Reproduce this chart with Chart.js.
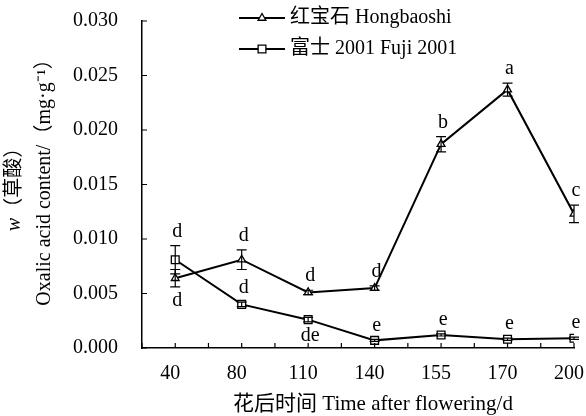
<!DOCTYPE html>
<html>
<head>
<meta charset="utf-8">
<script src="https://cdn.jsdelivr.net/npm/chart.js@4.4.1/dist/chart.umd.min.js"></script>
<style>
  html, body { margin: 0; padding: 0; background: #fff; }
  #wrap { width: 586px; height: 416px; }
</style>
</head>
<body>
<div id="wrap"><canvas id="chart" width="586" height="416"></canvas></div>
<script>
// days after flowering (category labels on the x axis)
const days = ['40', '80', '110', '140', '155', '170', '200'];

const hongbaoshi = [0.0064, 0.0081, 0.0051, 0.0055, 0.0187, 0.0237, 0.0123];
const hongbaoshiErr = [0.0008, 0.0009, 0.0002, 0.0002, 0.0007, 0.0006, 0.0008];
const hongbaoshiLetters = ['d', 'd', 'd', 'd', 'b', 'a', 'c'];

const fuji = [0.0081, 0.0040, 0.0026, 0.0007, 0.0012, 0.0008, 0.0009];
const fujiErr = [0.0013, 0.0002, 0.0002, 0.0001, 0.0001, 0.0001, 0.0001];
const fujiLetters = ['d', 'd', 'de', 'e', 'e', 'e', 'e'];

const yMin = 0, yMax = 0.03, yStep = 0.005;

const SERIF = '"Liberation Serif", "Times New Roman", "Noto Sans CJK SC", serif';

const toPoints = arr => arr.map((v, i) => ({ x: i, y: v }));

// little tick marks pointing into the plot
const inwardTicks = {
  id: 'inwardTicks',
  afterDraw(chart) {
    const { ctx, chartArea, scales: { x, y } } = chart;
    ctx.save();
    ctx.strokeStyle = '#000';
    ctx.lineWidth = 1.2;
    ctx.beginPath();
    x.ticks.forEach(t => {
      const px = x.getPixelForValue(t.value);
      ctx.moveTo(px, chartArea.bottom);
      ctx.lineTo(px, chartArea.bottom - 5);
    });
    y.ticks.forEach(t => {
      const py = y.getPixelForValue(t.value);
      ctx.moveTo(chartArea.left, py);
      ctx.lineTo(chartArea.left + 5, py);
    });
    ctx.stroke();
    ctx.restore();
  }
};

// error bars + significance letters
const errorBars = {
  id: 'errorBars',
  afterDatasetsDraw(chart) {
    const { ctx, scales: { x, y } } = chart;
    ctx.save();
    chart.data.datasets.forEach(ds => {
      ds.data.forEach((p, i) => {
        const e = ds.errors[i];
        const px = x.getPixelForValue(p.x);
        const top = y.getPixelForValue(p.y + e);
        const bot = y.getPixelForValue(p.y - e);
        ctx.strokeStyle = '#000';
        ctx.lineWidth = 1.2;
        ctx.beginPath();
        ctx.moveTo(px, top); ctx.lineTo(px, bot);
        ctx.moveTo(px - 5, top); ctx.lineTo(px + 5, top);
        ctx.moveTo(px - 5, bot); ctx.lineTo(px + 5, bot);
        ctx.stroke();

        ctx.fillStyle = '#000';
        ctx.font = '20px ' + SERIF;
        ctx.textAlign = 'center';
        ctx.textBaseline = 'middle';
        const below = ds.letterSide[i] === 'below';
        ctx.fillText(ds.letters[i], px + 2, below ? bot + 14 : top - 14);
      });
    });
    ctx.restore();
  }
};

// line + marker legend sitting inside the plot
const lineLegend = {
  id: 'lineLegend',
  afterDraw(chart) {
    const { ctx } = chart;
    ctx.save();
    chart.data.datasets.forEach((ds, i) => {
      const cy = 18 + i * 31;
      ctx.strokeStyle = '#000';
      ctx.lineWidth = 2;
      ctx.beginPath();
      ctx.moveTo(239, cy); ctx.lineTo(285, cy);
      ctx.stroke();
      ctx.fillStyle = '#fff';
      ctx.lineWidth = 1.3;
      Chart.helpers.drawPoint(ctx, { pointStyle: ds.pointStyle, radius: ds.pointRadius, borderWidth: 1.3 }, 262, cy);
      ctx.fillStyle = '#000';
      ctx.font = '20px ' + SERIF;
      ctx.textAlign = 'left';
      ctx.textBaseline = 'middle';
      ctx.fillText(ds.label, 290, cy);
    });
    ctx.restore();
  }
};

// axis titles (y rotated with italic w)
const axisTitles = {
  id: 'axisTitles',
  afterDraw(chart) {
    const { ctx, chartArea } = chart;
    const cy = (chartArea.top + chartArea.bottom) / 2;
    ctx.save();
    ctx.fillStyle = '#000';
    ctx.textBaseline = 'middle';

    ctx.font = '21px ' + SERIF;
    ctx.textAlign = 'center';
    ctx.fillText('花后时间 Time after flowering/d', 373, 404);

    ctx.translate(15, cy);
    ctx.rotate(-Math.PI / 2);
    ctx.font = 'italic 20px ' + SERIF;
    const w1 = ctx.measureText('w').width;
    ctx.font = '20px ' + SERIF;
    const w2 = ctx.measureText('（草酸）').width;
    ctx.textAlign = 'left';
    ctx.font = 'italic 20px ' + SERIF;
    ctx.fillText('w', -(w1 + w2) / 2, 0);
    ctx.font = '20px ' + SERIF;
    ctx.fillText('（草酸）', -(w1 + w2) / 2 + w1, 0);
    ctx.textAlign = 'center';
    ctx.fillText('Oxalic acid content/（mg·g⁻¹）', 7, 30);
    ctx.restore();
  }
};

new Chart(document.getElementById('chart'), {
  type: 'line',
  data: {
    datasets: [
      {
        label: '红宝石 Hongbaoshi',
        data: toPoints(hongbaoshi),
        errors: hongbaoshiErr,
        letters: hongbaoshiLetters,
        letterSide: ['below', 'above', 'above', 'above', 'above', 'above', 'above'],
        borderColor: '#000',
        borderWidth: 2,
        pointStyle: 'triangle',
        pointRadius: 4.5,
        pointBackgroundColor: '#fff',
        pointBorderColor: '#000',
        pointBorderWidth: 1.3,
        tension: 0
      },
      {
        label: '富士 2001 Fuji 2001',
        data: toPoints(fuji),
        errors: fujiErr,
        letters: fujiLetters,
        letterSide: ['above', 'above', 'below', 'above', 'above', 'above', 'above'],
        borderColor: '#000',
        borderWidth: 2,
        pointStyle: 'rect',
        pointRadius: 5.5,
        pointBackgroundColor: '#fff',
        pointBorderColor: '#000',
        pointBorderWidth: 1.3,
        tension: 0
      }
    ]
  },
  options: {
    responsive: false,
    animation: false,
    layout: { padding: { top: 21, right: 12, bottom: 0, left: 0 } },
    plugins: { legend: { display: false }, tooltip: { enabled: false } },
    scales: {
      x: {
        type: 'linear',
        min: -0.5,
        max: days.length - 1,
        afterFit: s => { s.height = 68; s.paddingLeft = 0; s.paddingRight = 0; },
        border: { color: '#000', width: 1.5 },
        grid: { drawOnChartArea: false, drawTicks: false },
        ticks: {
          stepSize: 0.5,
          autoSkip: false,
          maxRotation: 0,
          padding: 14,
          labelOffset: -5,
          color: '#000',
          font: { family: SERIF, size: 20 },
          callback: v => Number.isInteger(v) ? days[v] : ''
        }
      },
      y: {
        min: yMin,
        max: yMax,
        afterFit: s => { s.width = 142; s.paddingTop = 0; s.paddingBottom = 0; },
        border: { color: '#000', width: 1.5 },
        grid: { drawOnChartArea: false, drawTicks: false },
        ticks: {
          stepSize: yStep,
          padding: 24,
          color: '#000',
          font: { family: SERIF, size: 20 },
          callback: v => v.toFixed(3)
        }
      }
    }
  },
  plugins: [inwardTicks, errorBars, lineLegend, axisTitles]
});
</script>
</body>
</html>
